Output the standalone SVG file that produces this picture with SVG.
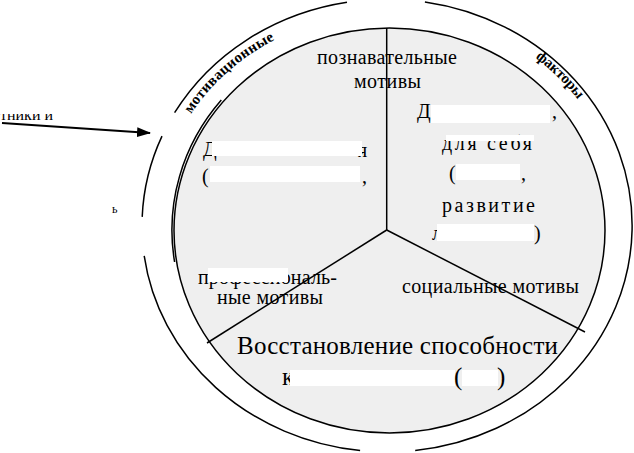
<svg xmlns="http://www.w3.org/2000/svg" width="634" height="453" viewBox="0 0 634 453">
<defs>
<path id="pMot" d="M191,114 A230.2 212.8 0 0 1 347,16"/>
<path id="pFak" d="M535.2,57.7 A234.5 216.7 0 0 1 607.4,151.5"/>
<marker id="ah" markerWidth="14" markerHeight="10" refX="13" refY="5" orient="auto" markerUnits="userSpaceOnUse">
<path d="M0,0 L14,5 L0,10 Z" fill="#000"/>
</marker>
</defs>
<rect width="634" height="453" fill="#fff"/>

<g id="outer-ring" fill="none" stroke="#000" stroke-width="1.5">
<path d="M360.1,450.6 A245 226.4 0 0 1 144.2,255.9"/>
<path d="M142.2,216.9 A245 226.4 0 0 1 162,136.1"/>
<path d="M174.6,112.7 A245 226.4 0 0 1 347,2.2"/>
<path d="M424.9,1.9 A245 226.4 0 0 1 415.2,450.5"/>
</g>

<g id="inner-circle" stroke="#000" stroke-width="1.5">
<ellipse cx="389.5" cy="230.5" rx="215.5" ry="202.5" fill="#efefef"/>
<path fill="none" d="M174.6,262 A218 205 0 0 1 221.3,100.1"/>
</g>

<g id="ring-labels">
<text font-family="Liberation Serif" font-weight="bold" font-size="15"><textPath href="#pMot" textLength="113" lengthAdjust="spacing">мотивационные</textPath></text>
<text font-family="Liberation Serif" font-weight="bold" font-size="15"><textPath href="#pFak" textLength="60" lengthAdjust="spacing">факторы</textPath></text>
</g>

<g id="connectors" stroke="#000" stroke-width="1.5" fill="none">
<line x1="386.7" y1="28" x2="386.7" y2="230"/>
<line x1="386.7" y1="230" x2="585" y2="332"/>
<line x1="386.7" y1="230" x2="207" y2="343"/>
<line x1="2" y1="123" x2="150" y2="133" stroke-width="2" marker-end="url(#ah)"/>
</g>

<g id="node-cognitive">
<text font-family="Liberation Serif" font-size="20" x="317" y="64" textLength="140">познавательные</text>
<text font-family="Liberation Serif" font-size="20" x="354" y="88" textLength="67">мотивы</text>
</g>

<g id="node-self">
<text font-family="Liberation Serif" font-size="20" x="417" y="118">Д</text>
<text font-family="Liberation Serif" font-size="20" x="552" y="118">,</text>
<rect fill="#fff" x="431" y="105" width="119" height="18"/>
<text font-family="Liberation Serif" font-size="20" x="442" y="150" textLength="90">для себя</text>
<rect fill="#fff" x="446" y="135" width="88" height="6"/>
<text font-family="Liberation Serif" font-size="20" x="449" y="180">(</text>
<rect fill="#fff" x="456" y="164" width="64" height="16"/>
<text font-family="Liberation Serif" font-size="20" x="521" y="180">,</text>
<text font-family="Liberation Serif" font-size="20" x="442" y="212" textLength="93">развитие</text>
<text font-family="Liberation Serif" font-size="20" x="432" y="240">л</text>
<rect fill="#fff" x="437" y="224" width="97" height="17"/>
<text font-family="Liberation Serif" font-size="20" x="534" y="240">)</text>
</g>

<g id="node-society">
<text font-family="Liberation Serif" font-size="20" x="203" y="156">Д</text>
<text font-family="Liberation Serif" font-size="20" x="358" y="157">я</text>
<rect fill="#fff" x="212" y="141" width="150" height="15"/>
<text font-family="Liberation Serif" font-size="20" x="202" y="183">(</text>
<rect fill="#fff" x="210" y="166" width="150" height="16"/>
<text font-family="Liberation Serif" font-size="20" x="362" y="183">,</text>
</g>

<g id="node-professional">
<text font-family="Liberation Serif" font-size="20" x="198" y="284" textLength="139">профессиональ-</text>
<rect fill="#fff" x="208" y="268" width="80" height="14"/>
<text font-family="Liberation Serif" font-size="20" x="217" y="304" textLength="106">ные мотивы</text>
</g>

<g id="node-social">
<text font-family="Liberation Serif" font-size="20" x="402" y="293" textLength="177">социальные мотивы</text>
</g>

<g id="node-recovery">
<text font-family="Liberation Serif" font-size="25" x="237" y="354" textLength="321">Восстановление способности</text>
<text font-family="Liberation Serif" font-size="25" x="282" y="385">к</text>
<rect fill="#fff" x="290" y="370" width="165" height="16"/>
<text font-family="Liberation Serif" font-size="25" x="454" y="385">(</text>
<rect fill="#fff" x="462" y="370" width="36" height="16"/>
<text font-family="Liberation Serif" font-size="25" x="497" y="385">)</text>
</g>

<g id="outside-labels">
<text font-family="Liberation Serif" font-size="16" x="0" y="120">тники и</text>
<rect fill="#fff" x="0" y="100" width="60" height="14"/>
<text font-family="Liberation Serif" font-size="12" x="112" y="213">ь</text>
</g>
</svg>
